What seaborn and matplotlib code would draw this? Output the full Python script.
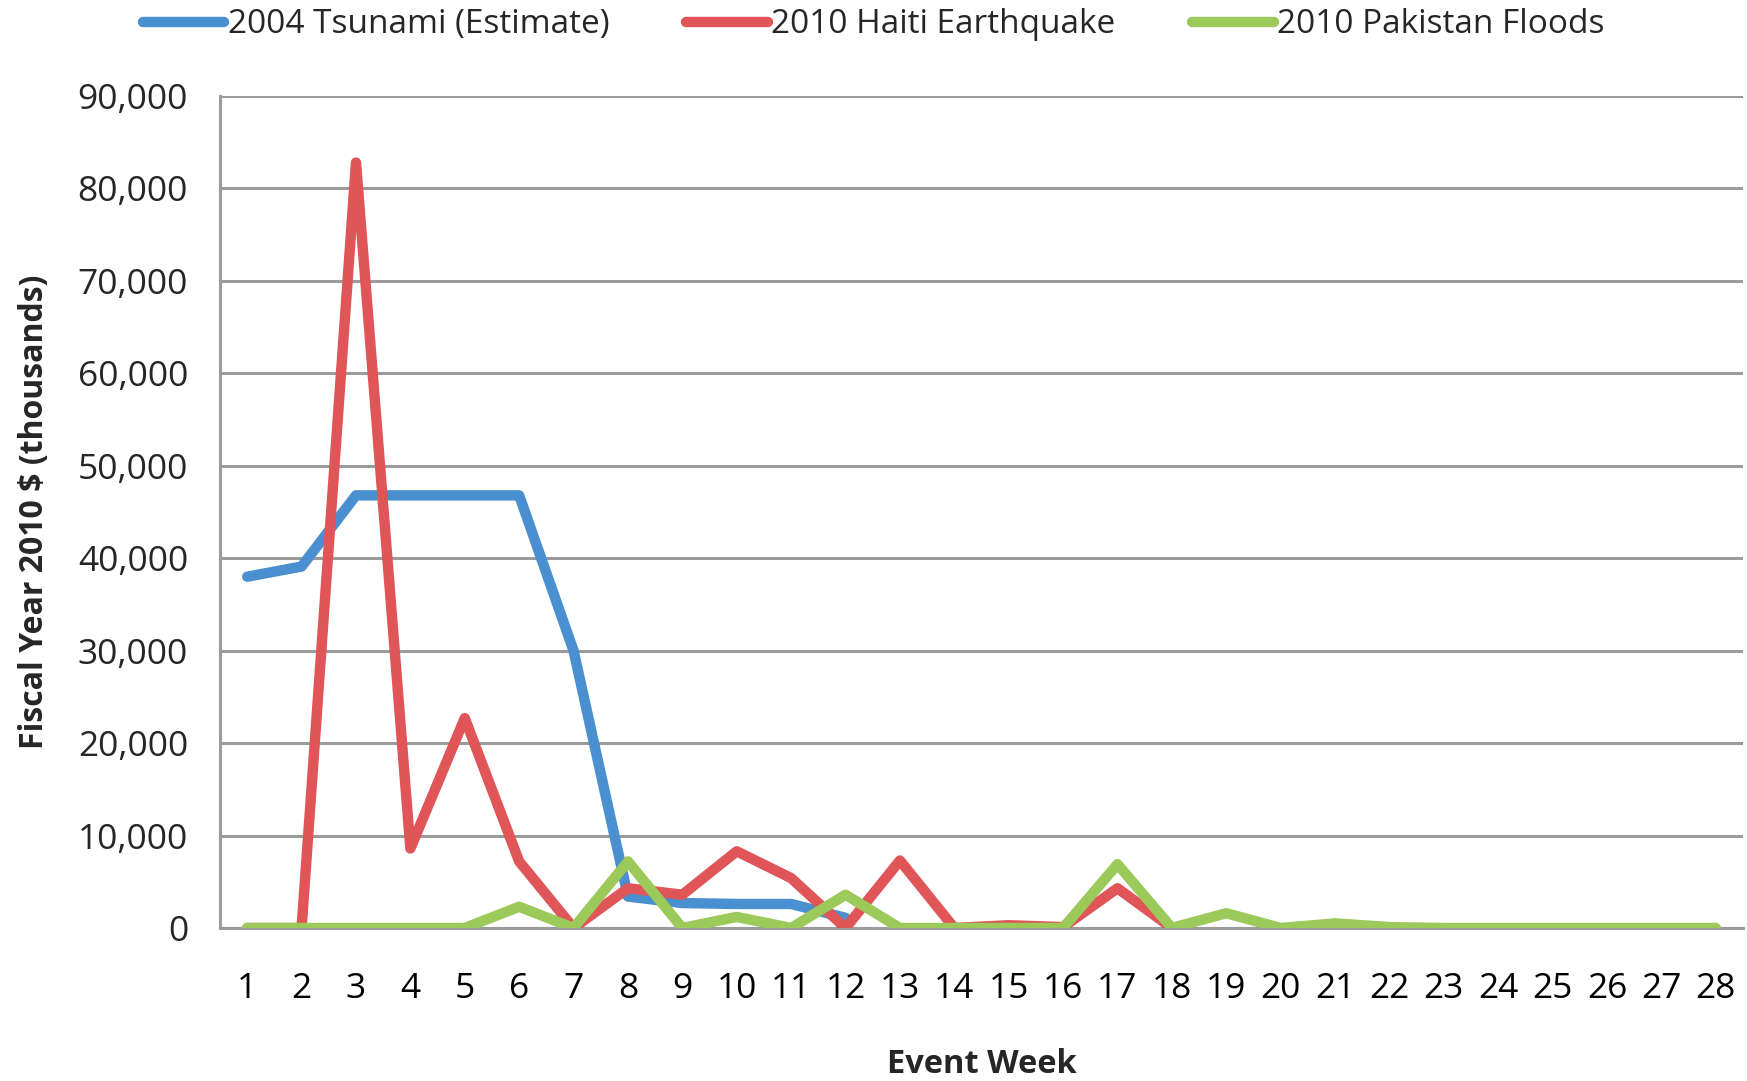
import matplotlib
matplotlib.use("Agg")
import matplotlib.pyplot as plt
import numpy as np
import pandas as pd
import seaborn as sns

# ── data ─────────────────────────────────────────────────────────────────────
weeks = list(range(1, 29))
tsunami = [38000, 39100, 46800, 46800, 46800, 46800, 30000, 3400, 2700, 2600,
           2600, 1100] + [np.nan] * 16
haiti = [0, 0, 82800, 8600, 22700, 7200, 0, 4300, 3600, 8300,
         5400, 0, 7300, 0, 300, 100, 4300, 0] + [np.nan] * 10
pakistan = [0, 0, 0, 0, 0, 2300, 0, 7200, 0, 1200,
            0, 3600, 0, 0, 0, 0, 6900, 0, 1600, 0,
            500, 100, 0, 0, 0, 0, 0, 0]
series_names = ["2004 Tsunami (Estimate)", "2010 Haiti Earthquake", "2010 Pakistan Floods"]
colors = ["#4A8FCF", "#E05558", "#9BC95A"]
yticks = list(range(0, 90001, 10000))

df = pd.concat([
    pd.DataFrame({"week": weeks, "value": vals, "series": name})
    for name, vals in zip(series_names, [tsunami, haiti, pakistan])
]).dropna()

sns.set_theme(style="white")
plt.rcParams["font.family"] = ["Open Sans", "DejaVu Sans"]

W, H = 1747, 1081
fig = plt.figure(figsize=(W / 100, H / 100), dpi=100)
ax = fig.add_axes([220 / W, 1 - 928 / H, (1743 - 220) / W, (928 - 96) / H])

sns.lineplot(data=df, x="week", y="value", hue="series", hue_order=series_names,
             palette=colors, linewidth=7.5, ax=ax, legend=False, zorder=3)

grid_c = "#9B9B9B"
ax.set_xlim(0.5, 28.5)
ax.set_ylim(0, 90000)
ax.set_yticks(yticks)
ax.set_yticklabels([f"{v:,}" for v in yticks], fontsize=25.5)
ax.set_xticks(weeks)
ax.set_xticklabels([str(w) for w in weeks], fontsize=25.5)
ax.set_xticks(np.arange(0.5, 29, 1), minor=True)
ax.tick_params(axis="x", which="major", length=0, pad=32, colors="black")
ax.tick_params(axis="x", which="minor", length=10, width=2.2, color=grid_c, direction="out")
ax.tick_params(axis="y", length=10, width=2.2, color=grid_c, pad=13, direction="out")
ax.yaxis.grid(True, color=grid_c, linewidth=2.2)
ax.set_axisbelow(True)
for s in ["top", "right"]:
    ax.spines[s].set_visible(False)
for s in ["left", "bottom"]:
    ax.spines[s].set_color(grid_c)
    ax.spines[s].set_linewidth(2.2)

ax.set_xlabel("Event Week", fontsize=23.5, fontweight="bold", labelpad=30)
ax.set_ylabel("Fiscal Year 2010 $ (thousands)", fontsize=23, fontweight="bold", labelpad=19)

handles = [plt.Line2D([], [], color=c, linewidth=7.5) for c in colors]
fig.legend(handles, series_names, loc="upper center", bbox_to_anchor=(0.5, 1.02),
           ncol=3, frameon=False, fontsize=24, handlelength=2.45, handletextpad=0.1,
           columnspacing=2.3)

fig.savefig("out.png", dpi=100)
